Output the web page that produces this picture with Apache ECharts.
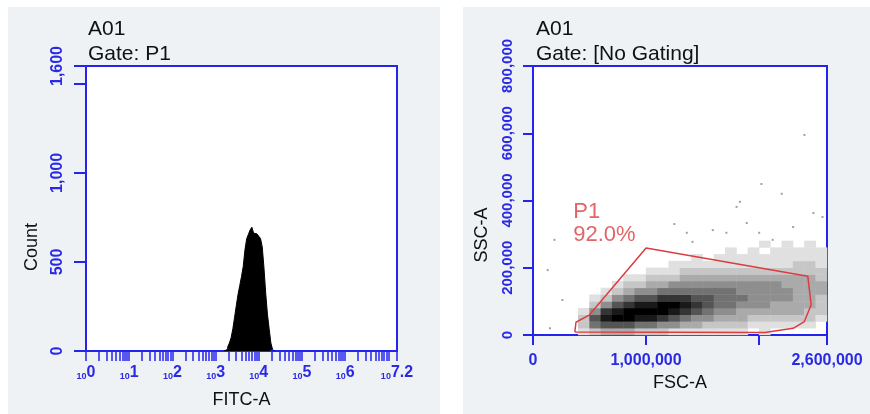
<!DOCTYPE html>
<html><head><meta charset="utf-8">
<script src="https://cdn.jsdelivr.net/npm/echarts@6/dist/echarts.min.js"></script>
<style>html,body{margin:0;padding:0;background:#fff}#c{width:870px;height:414px}</style>
</head><body><div id="c"></div>
<script>
// ---------- Left panel: FITC-A histogram (x = log10 decade) ----------
const fitcBinStart = [3.20,3.24,3.28,3.32,3.36,3.40,3.44,3.48,3.52,3.56,3.60,3.64,3.68,3.72,3.76,3.80,3.84,3.88,3.92,3.96,4.00,4.04,4.08,4.12,4.16,4.20,4.24,4.28,4.32,4.36];
const fitcCounts   = [0,10,22,45,75,125,190,255,318,368,418,475,568,630,655,680,695,662,657,655,644,632,585,468,325,208,125,45,8,0];
const fitcDecadeLabels = [0,1,2,3,4,5,6,7.2];
const countTicks  = [0,500,1000,1500,1600];
const countLabels = [0,500,1000,1600];

// ---------- Right panel: FSC-A vs SSC-A density ----------
const fscTicks  = [0,1000000,2000000,2600000];
const fscLabels = [0,1000000,2600000];
const sscTicks  = [0,200000,400000,600000,800000];
const fscBinCenters = [50000,150000,250000,350000,450000,550000,650000,750000,850000,950000,1050000,1150000,1250000,1350000,1450000,1550000,1650000,1750000,1850000,1950000,2050000,2150000,2250000,2350000,2450000,2550000];
const sscBinCenters = [10000,30000,50000,70000,90000,110000,130000,150000,170000,190000,210000,230000,250000,270000];
// density level (0-9) per SSC bin (row) and FSC bin (column)
const densityRows = [
  "00001233322211111110100000",
  "00002566655443322221111110",
  "00002689988765443332222221",
  "00001478999987654433333322",
  "00000246788998765544433332",
  "00000124566777665554444332",
  "00000012344555555544444333",
  "00000001223344444444443333",
  "00000000112223333333333332",
  "00000000001112222222222222",
  "00000000000011111111111221",
  "00000000000000101111111111",
  "00000000000000000101011111",
  "00000000000000000000101010"
];
const outFsc = [190000,130000,260000,1830000,1800000,2020000,2480000,2300000,1890000,1360000,1410000,1590000,1710000,2000000,2120000,2560000,2400000,150000,1250000,2200000];
const outSsc = [283000,193000,104000,396000,381000,449000,363000,321000,333000,304000,277000,312000,304000,304000,283000,351000,595000,20000,330000,420000];
const gateFsc = [370000,380000,500000,1000000,2430000,2460000,2400000,2300000,2050000,370000];
const gateSsc = [9000,38000,60000,259000,175000,90000,40000,20000,7500,9000];
const gateLabel = 'P1\n92.0%';
const gateLabelAt = [360000,400000];

const FONT = "'Liberation Sans', Arial, sans-serif";
const BLUE = '#2424ee';
const LBLUE = '#2a2ae6';
const grays = ['#ffffff','#e0e0e0','#c6c6c6','#aaaaaa','#8e8e8e','#727272','#545454','#353535','#191919','#000000'];

const fitcTickVals = [];
for (let n = 0; n <= 7; n++) for (let k = 1; k <= 9; k++) {
  const v = n + Math.log10(k);
  if (v <= 7.2 + 1e-9) fitcTickVals.push(+v.toFixed(5));
}
fitcTickVals.push(7.2);

const comma = v => Number(v).toLocaleString('en-US');

const cells = [];
densityRows.forEach((row, r) => {
  for (let c = 0; c < row.length; c++) {
    const d = +row[c];
    if (d > 0) cells.push([fscBinCenters[c], sscBinCenters[r], d]);
  }
});

const chart = echarts.init(document.getElementById('c'), null, {renderer: 'canvas'});
chart.setOption({
  animation: false,
  backgroundColor: '#ffffff',
  textStyle: {fontFamily: FONT},
  graphic: [
    {type: 'rect', z: -100, shape: {x: 8, y: 7, width: 432, height: 407}, style: {fill: '#eef2f5'}},
    {type: 'rect', z: -100, shape: {x: 463, y: 7, width: 407, height: 407}, style: {fill: '#eef2f5'}},
    {type: 'text', x: 32, y: 247, rotation: Math.PI / 2,
      style: {text: 'Count', fontSize: 18, fontFamily: FONT, fill: '#111', align: 'center', verticalAlign: 'middle'}},
    {type: 'text', x: 482, y: 235, rotation: Math.PI / 2,
      style: {text: 'SSC-A', fontSize: 18, fontFamily: FONT, fill: '#111', align: 'center', verticalAlign: 'middle'}}
  ],
  title: [
    {text: 'A01\nGate: P1', left: 83, top: 12,
      textStyle: {fontSize: 21, fontWeight: 'normal', color: '#111', lineHeight: 25, fontFamily: FONT}},
    {text: 'A01\nGate: [No Gating]', left: 531, top: 12,
      textStyle: {fontSize: 21, fontWeight: 'normal', color: '#111', lineHeight: 25, fontFamily: FONT}}
  ],
  grid: [
    {left: 86, top: 66, width: 311, height: 285, show: true, backgroundColor: '#fff', borderColor: BLUE, borderWidth: 2},
    {left: 533, top: 66, width: 294, height: 269, show: true, backgroundColor: '#fff', borderColor: BLUE, borderWidth: 2}
  ],
  xAxis: [
    {type: 'value', gridIndex: 0, min: 0, max: 7.2,
      axisLine: {lineStyle: {color: BLUE, width: 2}},
      axisTick: {show: true, length: 10, customValues: fitcTickVals, lineStyle: {color: BLUE, width: 1.5}},
      splitLine: {show: false},
      axisLabel: {customValues: fitcDecadeLabels, margin: 14, color: LBLUE, hideOverlap: false,
        formatter: v => '{b|10}{e|' + (Number.isInteger(v) ? String(v) : v.toFixed(1)) + '}',
        rich: {
          b: {fontSize: 9, fontWeight: 'bold', color: LBLUE, lineHeight: 10, verticalAlign: 'bottom', fontFamily: FONT},
          e: {fontSize: 16, fontWeight: 'bold', color: LBLUE, lineHeight: 16, padding: [0, 0, 5, 0], verticalAlign: 'top', fontFamily: FONT}
        }},
      name: 'FITC-A', nameLocation: 'middle', nameGap: 40,
      nameTextStyle: {color: '#111', fontSize: 18, fontFamily: FONT}},
    {type: 'value', gridIndex: 1, min: 0, max: 2600000,
      axisLine: {lineStyle: {color: BLUE, width: 2}},
      axisTick: {show: true, length: 10, customValues: fscTicks, lineStyle: {color: BLUE, width: 2}},
      splitLine: {show: false},
      axisLabel: {customValues: fscLabels, margin: 18, color: LBLUE, fontSize: 16, fontWeight: 'bold', fontFamily: FONT,
        formatter: v => comma(v)},
      name: 'FSC-A', nameLocation: 'middle', nameGap: 38,
      nameTextStyle: {color: '#111', fontSize: 18, fontFamily: FONT}}
  ],
  yAxis: [
    {type: 'value', gridIndex: 0, min: 0, max: 1600,
      axisLine: {lineStyle: {color: BLUE, width: 2}},
      axisTick: {show: true, length: 12, customValues: countTicks, lineStyle: {color: BLUE, width: 2}},
      splitLine: {show: false},
      axisLabel: {customValues: countLabels, rotate: 90, margin: 20, color: LBLUE, fontSize: 16, fontWeight: 'bold', fontFamily: FONT,
        formatter: v => comma(v)}},
    {type: 'value', gridIndex: 1, min: 0, max: 800000, interval: 200000,
      axisLine: {lineStyle: {color: BLUE, width: 2}},
      axisTick: {show: true, length: 10, customValues: sscTicks, lineStyle: {color: BLUE, width: 2}},
      splitLine: {show: false},
      axisLabel: {customValues: sscTicks, rotate: 90, margin: 18, color: LBLUE, fontSize: 15, fontWeight: 'bold', fontFamily: FONT,
        hideOverlap: false, formatter: v => comma(v)}}
  ],
  series: [
    {type: 'line', xAxisIndex: 0, yAxisIndex: 0, step: 'end', symbol: 'none', silent: true,
      lineStyle: {color: '#000', width: 1}, areaStyle: {color: '#000', opacity: 1},
      data: fitcBinStart.map((e, i) => [e, fitcCounts[i]])},
    {type: 'scatter', xAxisIndex: 1, yAxisIndex: 1, symbol: 'rect', symbolSize: [11.8, 7.1], silent: true,
      itemStyle: {color: p => grays[p.value[2]], opacity: 1},
      data: cells},
    {type: 'scatter', xAxisIndex: 1, yAxisIndex: 1, symbol: 'rect', symbolSize: 2, silent: true,
      itemStyle: {color: '#8a8a8a'},
      data: outFsc.map((x, i) => [x, outSsc[i]])},
    {type: 'line', xAxisIndex: 1, yAxisIndex: 1, symbol: 'none', silent: true,
      lineStyle: {color: '#dc3c40', width: 1.5},
      data: gateFsc.map((x, i) => [x, gateSsc[i]])},
    {type: 'scatter', xAxisIndex: 1, yAxisIndex: 1, symbolSize: 1, silent: true,
      itemStyle: {color: 'rgba(0,0,0,0)'},
      label: {show: true, position: [0, 0], align: 'left', verticalAlign: 'top', formatter: gateLabel,
        color: '#dc3c40', fontSize: 22, lineHeight: 23, fontFamily: FONT},
      data: [gateLabelAt]}
  ]
});
</script></body></html>
